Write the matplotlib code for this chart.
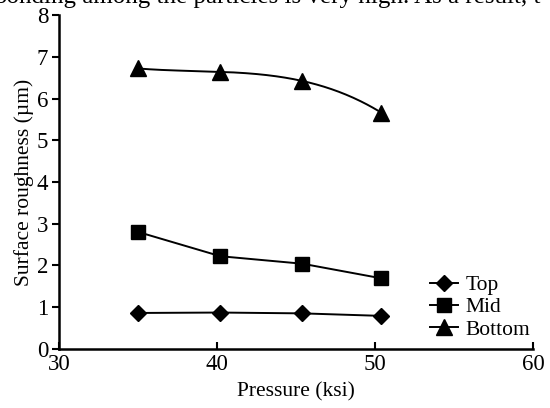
import numpy as np
import matplotlib
matplotlib.use("Agg")
import matplotlib.pyplot as plt

pressure = [35.0, 40.2, 45.4, 50.4]
top = [0.86, 0.87, 0.85, 0.79]
mid = [2.80, 2.22, 2.04, 1.69]
bottom = [6.72, 6.64, 6.42, 5.66]
xticks = [30, 40, 50, 60]
yticks = [0, 1, 2, 3, 4, 5, 6, 7, 8]

plt.rcParams['font.family'] = ['Liberation Serif', 'DejaVu Serif']

fig = plt.figure(figsize=(5.5, 4.08), dpi=100)
ax = fig.add_axes([0.108, 0.145, 0.861, 0.818])

lw = 1.4
ax.plot(pressure, top, color='black', lw=lw, marker='D', ms=8.5, label='Top')
ax.plot(pressure, mid, color='black', lw=lw, marker='s', ms=9.5, label='Mid')
# smooth line through the bottom points (exact cubic through the 4 points)
coef = np.polyfit(pressure, bottom, 3)
sx = np.linspace(pressure[0], pressure[-1], 200)
ax.plot(sx, np.polyval(coef, sx), color='black', lw=lw)
ax.plot(pressure, bottom, color='black', lw=0, marker='^', ms=11)
ax.plot([], [], color='black', lw=lw, marker='^', ms=11, label='Bottom')

ax.set_xlim(30, 60)
ax.set_ylim(0, 8)
ax.set_xticks(xticks)
ax.set_yticks(yticks)
for s in ['top', 'right']:
    ax.spines[s].set_visible(False)
for s in ['left', 'bottom']:
    ax.spines[s].set_linewidth(1.8)
ax.tick_params(axis='y', direction='out', length=5, width=1.5, labelsize=16.5, pad=3)
ax.tick_params(axis='x', direction='in', length=5, width=1.5, labelsize=16.5, pad=4)
for t in ax.get_yticklabels():
    t.set_verticalalignment('center_baseline')
ax.set_xlabel('Pressure (ksi)', fontsize=15.5, labelpad=5)
ax.set_ylabel('Surface roughness (\u00b5m)', fontsize=15.5, labelpad=2)

leg = ax.legend(loc='lower right', bbox_to_anchor=(1.012, 0.002), frameon=False, fontsize=15.5,
                handlelength=1.3, handletextpad=0.35, labelspacing=0.1, borderaxespad=0)

fig.text(-0.01, 1 - 3.5 / 408, 'bonding among the particles is very high. As a result, t',
         fontsize=18, va='baseline', ha='left')

fig.savefig('out.png', dpi=100)
